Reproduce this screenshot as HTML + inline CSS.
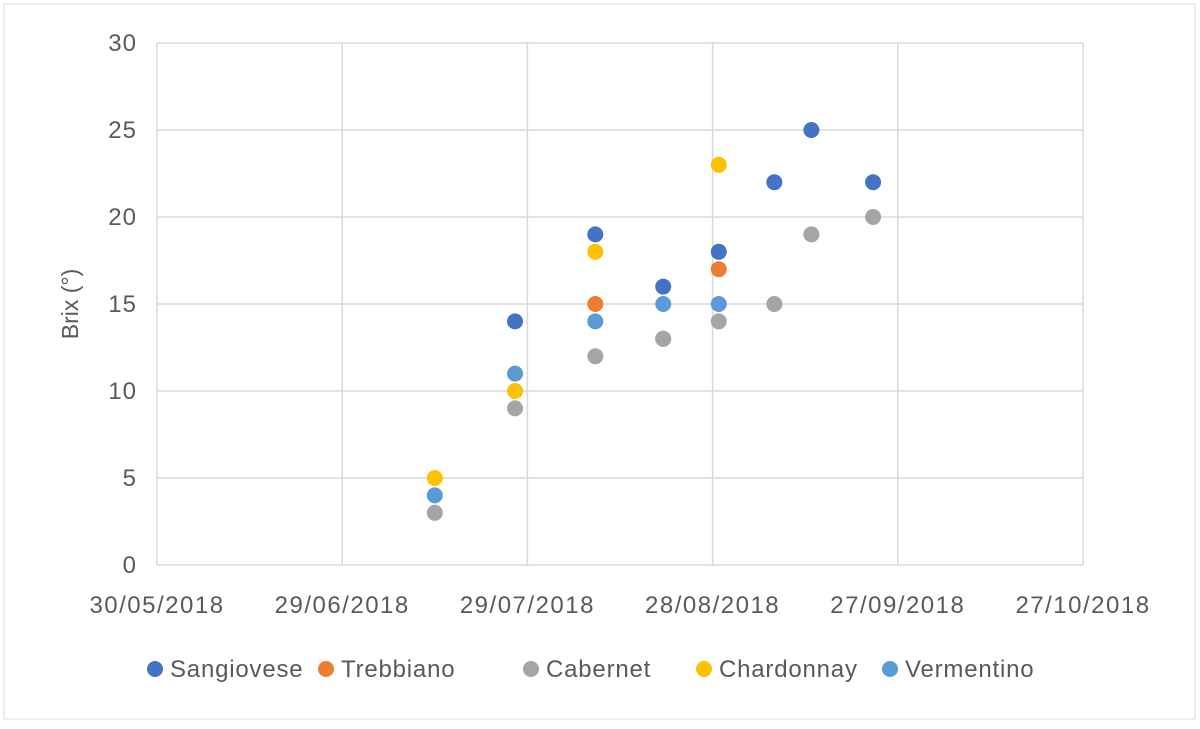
<!DOCTYPE html>
<html><head><meta charset="utf-8"><style>
body{margin:0;background:#fff;font-family:"Liberation Sans",sans-serif;}
svg text{font-family:"Liberation Sans",sans-serif;fill:#595959;}
</style></head><body>
<svg width="1200" height="724">
<rect x="4" y="4" width="1191" height="715" fill="#fff" stroke="#d9d9d9"/>
<g id="grid"></g><g id="marks"></g><g id="legend"></g>
<text transform="translate(78,304) rotate(-90)" text-anchor="middle" font-size="23">Brix (°)</text>
</svg>
<script>
const xTickLabels=["30/05/2018","29/06/2018","29/07/2018","28/08/2018","27/09/2018","27/10/2018"];
const yTicks=[0,5,10,15,20,25,30];
const seriesNames=["Sangiovese","Trebbiano","Cabernet","Chardonnay","Vermentino"];
const seriesColors=["#4472C4","#ED7D31","#A5A5A5","#FFC000","#5B9BD5"];
const sangioveseDates=["2018-07-27","2018-08-09","2018-08-20","2018-08-29","2018-09-07","2018-09-13","2018-09-23"];
const sangioveseValues=[14,19,16,18,22,25,22];
const trebbianoDates=["2018-08-09","2018-08-20","2018-08-29"];
const trebbianoValues=[15,13,17];
const cabernetDates=["2018-07-14","2018-07-27","2018-08-09","2018-08-20","2018-08-29","2018-09-07","2018-09-13","2018-09-23"];
const cabernetValues=[3,9,12,13,14,15,19,20];
const chardonnayDates=["2018-07-14","2018-07-27","2018-08-09","2018-08-29"];
const chardonnayValues=[5,10,18,23];
const vermentinoDates=["2018-07-14","2018-07-27","2018-08-09","2018-08-20","2018-08-29"];
const vermentinoValues=[4,11,14,15,15];

const NS="http://www.w3.org/2000/svg";
const x0=157,x1=1083,y0=565,y1=43;
const d0=Date.UTC(2018,4,30),dSpan=150;
function xS(s){const p=s.split("-");const d=(Date.UTC(+p[0],+p[1]-1,+p[2])-d0)/864e5;return x0+(x1-x0)*d/dSpan;}
function yS(v){return y0-(y0-y1)*v/30;}
function el(t,a,p){const e=document.createElementNS(NS,t);for(const k in a)e.setAttribute(k,a[k]);p.appendChild(e);return e;}
const grid=document.getElementById("grid"),marks=document.getElementById("marks"),legend=document.getElementById("legend");
yTicks.forEach(v=>{
 const l=el("line",{x1:x0,x2:x1,y1:yS(v),y2:yS(v),stroke:"#d9d9d9","stroke-width":1.5},grid);
 
 
 const t=el("text",{x:x0-20,y:yS(v)+8,"text-anchor":"end","font-size":24,"letter-spacing":1},grid);t.textContent=v;
 
 
});
xTickLabels.forEach((s,i)=>{
 const x=x0+(x1-x0)*i/(xTickLabels.length-1);
 const l=el("line",{x1:x,x2:x,y1:y1,y2:y0,stroke:"#d9d9d9","stroke-width":1.5},grid);
 
 
 const t=el("text",{x:x,y:613,"text-anchor":"middle","font-size":24,"letter-spacing":1.5},grid);t.textContent=s;
 
 
});
const allDates=[sangioveseDates,trebbianoDates,cabernetDates,chardonnayDates,vermentinoDates];
const allVals=[sangioveseValues,trebbianoValues,cabernetValues,chardonnayValues,vermentinoValues];
allDates.forEach((ds,si)=>{
 ds.forEach((d,i)=>{
  const c=el("circle",{cx:xS(d),cy:yS(allVals[si][i]),r:8,fill:seriesColors[si]},marks);
  
  
 });
});
const lx=[155,326,531,704,890];
seriesNames.forEach((n,i)=>{
 const c=el("circle",{cx:lx[i],cy:669,r:8,fill:seriesColors[i]},legend);
 
 
 const t=el("text",{x:lx[i]+15,y:677,"font-size":24,"letter-spacing":0.8},legend);t.textContent=n;
 
 
});
</script>
</body></html>
